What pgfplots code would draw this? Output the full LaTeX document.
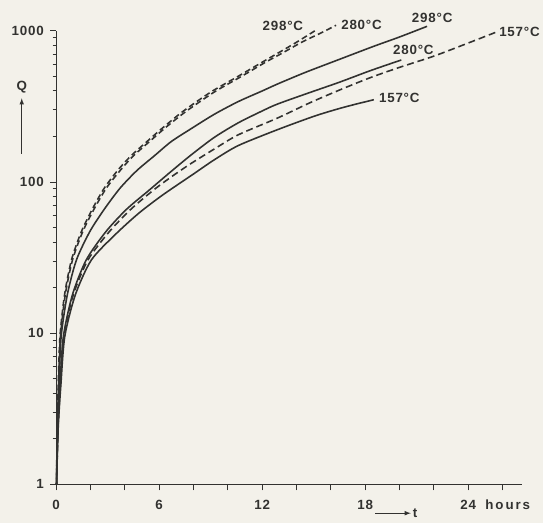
\documentclass[border=0pt]{standalone}
\usepackage{fontspec}
\setmainfont{Liberation Sans}[LetterSpace=6]
\newfontfamily\widefont{Liberation Sans}[LetterSpace=14]
\usepackage{xcolor}
\usepackage{pgfplots}
\pgfplotsset{compat=1.18}

\definecolor{paper}{RGB}{243,241,234}
\definecolor{ink}{RGB}{50,50,48}

% cumulative quantity Q against time t, solid and dashed series per temperature
\pgfplotstableread{
t Q
0.02 1
0.06 2.4
0.12 4.5
0.22 9.5
0.49 18
0.89 30.5
1.47 47
2.1 66
2.8 91
3.6 120
4.36 149
5.4 190
6.3 233
7.42 295
9.0 393
10.6 500
12.0 620
12.9 710
14.0 840
15.1 1005
}\dashA
\pgfplotstableread{
t Q
0.02 1
0.07 2.4
0.14 4.5
0.25 9.5
0.53 18
0.95 30.5
1.55 47
2.2 66
2.92 91
3.75 120
4.5 149
5.55 190
6.45 233
7.6 295
9.2 393
10.8 500
12.2 620
13.15 710
14.3 840
15.4 965
16.3 1087
}\dashB
\pgfplotstableread{
t Q
0.02 1
0.08 2.4
0.16 4.5
0.29 9.5
0.65 18
1.18 30.5
1.96 47
2.8 66
3.72 91
4.7 119
5.75 150
6.7 185
7.83 224
9.2 280
10.6 340
12.0 400
12.9 445
14.5 530
16.4 641
18.5 790
20.0 910
21.6 1070
}\solidA
\pgfplotstableread{
t Q
0.02 1
0.1 2.4
0.22 4.5
0.42 9.5
0.95 18
1.75 30.5
2.9 47
4.1 66
5.4 88
6.6 115
7.83 150
9.2 197
10.6 246
12.0 295
12.9 328
14.7 388
16.5 457
18.3 545
20.1 641
}\solidB
\pgfplotstableread{
t Q
0.02 1
0.11 2.4
0.24 4.5
0.45 9.5
1.0 18
1.85 30.5
3.1 47
4.35 66
5.7 89
6.8 110
7.83 132
9.2 165
10.6 205
12.9 265
14.8 335
16.6 410
18.3 490
19.9 568
22.0 680
24.0 830
25.6 977
}\dashC
\pgfplotstableread{
t Q
0.02 1
0.12 2.4
0.27 4.5
0.5 9.5
1.12 18
2.05 30.5
3.45 45
4.8 62
6.2 82
8.0 113
9.2 140
10.6 174
12.9 222
15.1 274
16.8 313
18.5 350
}\solidC

\pagecolor{paper}

\begin{document}
\begin{tikzpicture}
\begin{semilogyaxis}[
  name=ax,
  scale only axis,
  width=468.8bp, height=457bp,
  xmin=0, xmax=27.1, ymin=1, ymax=1000,
  axis lines*=left,
  axis line style={ink, line width=1pt},
  clip=false,
  xtick={0,2,...,26},
  xticklabels={0,,,6,,,12,,,18,,,{24\makebox[0pt][l]{\hspace{0.7em}{\widefont hours}}},},
  ytick={1,10,100,1000},
  yticklabels={1,10,100,1000},
  minor ytick={2,3,4,5,6,7,8,9,20,30,40,50,60,70,80,90,200,300,400,500,600,700,800,900},
  tick align=outside,
  major tick length=6bp,
  minor tick length=3.5bp,
  tick style={ink, line width=0.9pt},
  tick label style={ink, font=\fontsize{13.5}{15}\selectfont\bfseries},
  yticklabel style={xshift=-3bp},
  xticklabel style={yshift=-6bp},
  cycle list={{ink}},
  curve/.style={ink, line width=1.6pt, smooth, tension=0.45, mark=none},
]
\addplot[curve, dash pattern=on 6pt off 3.5pt] table {\dashA};
\addplot[curve, dash pattern=on 6pt off 3.5pt, dash phase=4pt] table {\dashB};
\addplot[curve] table {\solidA};
\addplot[curve] table {\solidB};
\addplot[curve, dash pattern=on 7pt off 4pt] table {\dashC};
\addplot[curve] table {\solidC};

\begin{scope}[font=\fontsize{13.5}{15}\selectfont\bfseries, text=ink]
\node at (axis cs:13.2,1070) {298°C};
\node[anchor=west] at (axis cs:16.4,1100) {280°C};
\node at (axis cs:21.9,1215) {298°C};
\node at (axis cs:20.8,745) {280°C};
\node[anchor=west] at (axis cs:25.6,985) {157°C};
\node[anchor=west] at (axis cs:18.6,362) {157°C};

\node at (axis description cs:-0.074,0.876) {Q};
\draw[ink, line width=1.1pt, -latex] (axis description cs:-0.074,0.729) -- (axis description cs:-0.074,0.851);
\draw[ink, line width=1.1pt, -latex] (axis description cs:0.686,-0.0635) -- (axis description cs:0.762,-0.0635);
\node[anchor=west, inner sep=1pt] at (axis description cs:0.764,-0.0635) {t};
\end{scope}
\end{semilogyaxis}
\path[use as bounding box] ([shift={(-56.6bp,-39bp)}]ax.south west) rectangle ([shift={(19.3bp,31bp)}]ax.north east);
\end{tikzpicture}
\end{document}
